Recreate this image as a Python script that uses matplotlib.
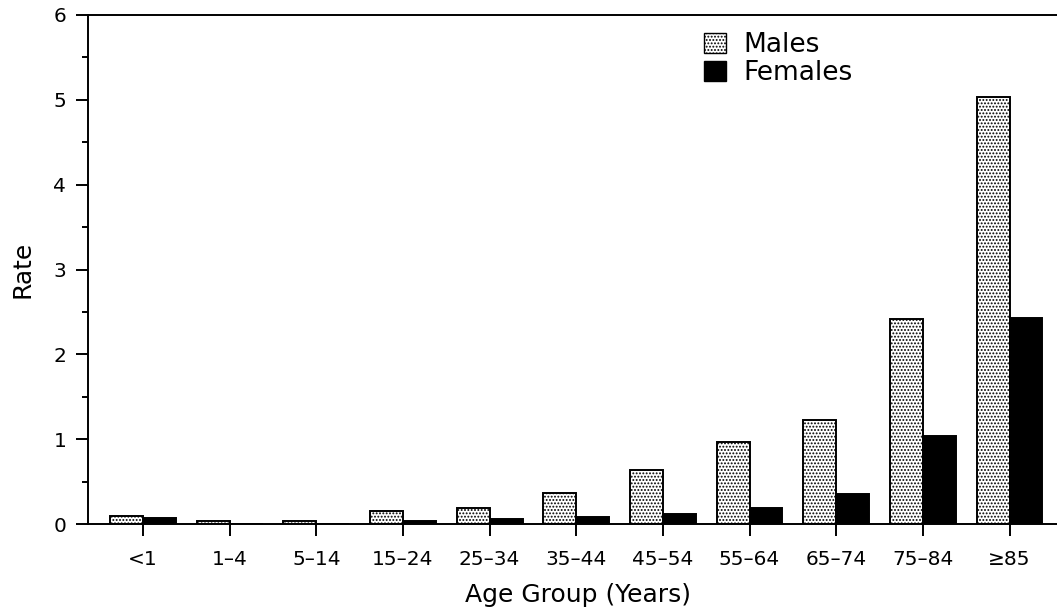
import matplotlib
matplotlib.use("Agg")
import matplotlib.pyplot as plt
import numpy as np
from matplotlib.patches import Patch
from matplotlib.ticker import MultipleLocator

plt.rcParams["font.family"] = ["DejaVu Sans"]
plt.rcParams["hatch.linewidth"] = 0.9

age_groups = ["<1", "1\u20134", "5\u201314", "15\u201324", "25\u201334", "35\u201344",
              "45\u201354", "55\u201364", "65\u201374", "75\u201384", "\u226585"]
males = [0.10, 0.03, 0.03, 0.15, 0.19, 0.36, 0.64, 0.97, 1.23, 2.42, 5.03]
females = [0.075, 0.0, 0.0, 0.035, 0.055, 0.08, 0.12, 0.19, 0.35, 1.04, 2.43]

fig = plt.figure(figsize=(10.57, 6.13), dpi=100)
ax = fig.add_axes([88 / 1057, 1 - 524 / 613, 1 - 88 / 1057 + 0.01, (524 - 15) / 613])

x = np.arange(len(age_groups))
w = 0.38
ax.bar(x - w / 2, males, w, facecolor="white", edgecolor="black",
       hatch=".....", linewidth=1.4, label="Males")
ax.bar(x + w / 2, females, w, facecolor="black", edgecolor="black",
       linewidth=1.4, label="Females")

ax.set_xlim(-0.635, 10.67)
ax.set_ylim(0, 6)
ax.yaxis.set_major_locator(MultipleLocator(1))
ax.yaxis.set_minor_locator(MultipleLocator(0.5))
ax.set_xticks(x)
ax.set_xticklabels(age_groups)
ax.tick_params(axis="y", which="major", direction="out", length=8.6, width=1.4,
               labelsize=14.5, pad=7)
ax.tick_params(axis="y", which="minor", direction="out", length=4.3, width=1.4)
ax.tick_params(axis="x", direction="out", length=8.6, width=1.4, labelsize=14.5, pad=10)

for side in ["left", "top", "bottom"]:
    ax.spines[side].set_linewidth(1.4)
ax.spines["right"].set_visible(False)

ax.set_ylabel("Rate", fontsize=18, labelpad=14)
ax.set_xlabel("Age Group (Years)", fontsize=18, labelpad=10)

handles = [Patch(facecolor="white", edgecolor="black", hatch=".....", label="Males"),
           Patch(facecolor="black", edgecolor="black", label="Females")]
ax.legend(handles=handles, loc="upper left", bbox_to_anchor=(704 / 1057, 1 - 32 / 613),
          bbox_transform=fig.transFigure, frameon=False, fontsize=19,
          handlelength=0.83, handleheight=0.8, handletextpad=0.65,
          labelspacing=0.08, borderpad=0.0, borderaxespad=0.0)

fig.savefig("out.png", dpi=100)
